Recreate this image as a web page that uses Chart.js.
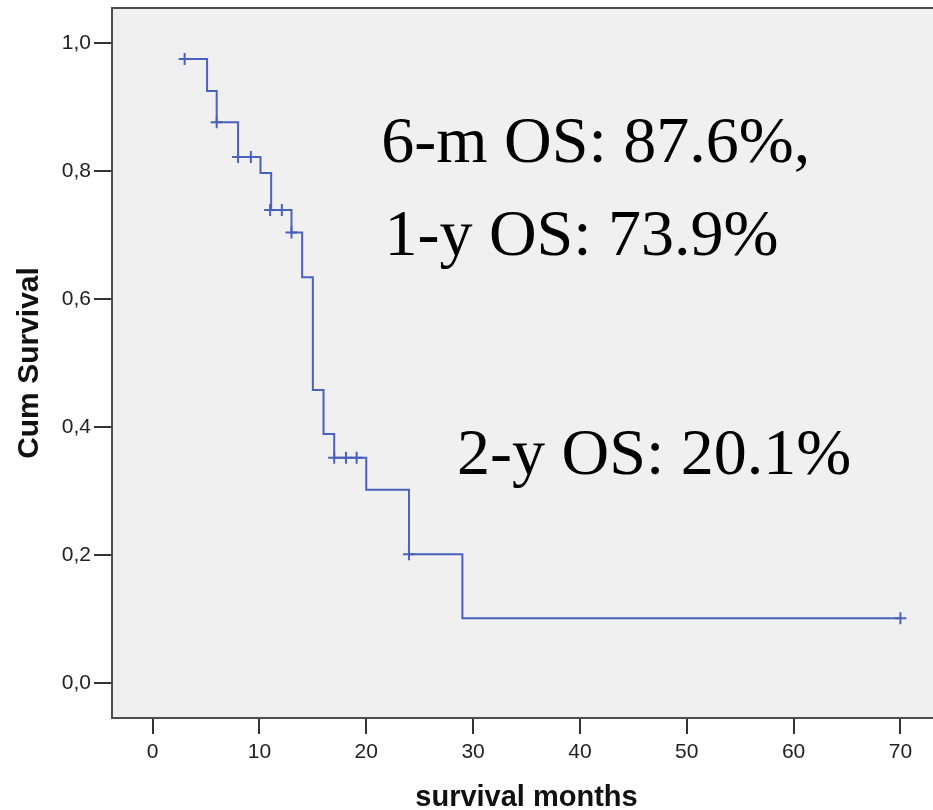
<!DOCTYPE html>
<html>
<head>
<meta charset="utf-8">
<script src="https://cdn.jsdelivr.net/npm/chart.js@4"></script>
<style>
html,body{margin:0;padding:0;background:#fff;overflow:hidden;}
#wrap{width:949px;height:810px;position:relative;}
</style>
</head>
<body>
<div id="wrap"><canvas id="c" width="949" height="810"></canvas></div>
<script>
// Kaplan-Meier step points (time in months, cumulative survival)
const stepTimes    = [2.5, 5.1, 6.0, 8.0, 10.1, 11.1, 13.0, 14.0, 15.0, 16.0, 17.0, 20.0, 24.0, 29.0, 70.0];
const stepSurvival = [0.975, 0.925, 0.876, 0.822, 0.797, 0.739, 0.704, 0.634, 0.458, 0.389, 0.352, 0.302, 0.201, 0.101, 0.101];
// Censored observations
const censorTimes    = [3.0, 6.0, 8.0, 9.2, 11.0, 12.1, 13.0, 17.0, 18.1, 19.1, 24.0, 70.0];
const censorSurvival = [0.975, 0.876, 0.822, 0.822, 0.739, 0.739, 0.704, 0.352, 0.352, 0.352, 0.201, 0.101];
// Axis ticks
const xTicks = [0, 10, 20, 30, 40, 50, 60, 70];
const yTicks = [0.0, 0.2, 0.4, 0.6, 0.8, 1.0];
// Annotations
const annoTexts = ['6-m OS: 87.6%,', '1-y OS: 73.9%', '2-y OS: 20.1%'];
const annoX = [21.4, 21.7, 28.5];
const annoY = [0.814, 0.669, 0.326];

const lineColor = '#4a62bd';

const frame = {
  id: 'frame',
  beforeDraw(chart) {
    const a = chart.chartArea, ctx = chart.ctx;
    ctx.save();
    ctx.fillStyle = '#f0f0f0';
    ctx.fillRect(a.left, a.top, a.right - a.left, a.bottom - a.top);
    ctx.restore();
  },
  afterDraw(chart) {
    const a = chart.chartArea, ctx = chart.ctx;
    ctx.save();
    ctx.strokeStyle = '#4d4d4d';
    ctx.lineWidth = 2;
    ctx.strokeRect(a.left, a.top, a.right - a.left, a.bottom - a.top);
    const xs = chart.scales.x, ys = chart.scales.y;
    ctx.fillStyle = '#000';
    ctx.font = '66px "Liberation Serif", "Times New Roman", serif';
    ctx.textBaseline = 'alphabetic';
    ctx.textAlign = 'left';
    annoTexts.forEach((t, i) => {
      ctx.fillText(t, xs.getPixelForValue(annoX[i]), ys.getPixelForValue(annoY[i]));
    });
    ctx.restore();
  }
};

new Chart(document.getElementById('c'), {
  type: 'scatter',
  data: {
    datasets: [
      {
        type: 'line',
        data: stepTimes.map((t, i) => ({x: t, y: stepSurvival[i]})),
        stepped: 'before',
        borderColor: lineColor,
        borderWidth: 2,
        pointRadius: 0,
        fill: false,
        tension: 0
      },
      {
        type: 'scatter',
        data: censorTimes.map((t, i) => ({x: t, y: censorSurvival[i]})),
        pointStyle: 'cross',
        pointRadius: 6,
        borderColor: lineColor,
        backgroundColor: lineColor,
        borderWidth: 2,
        pointHoverRadius: 6
      }
    ]
  },
  options: {
    responsive: false,
    animation: false,
    events: [],
    layout: {padding: {top: 8, right: 3, left: 0, bottom: 0}},
    plugins: {legend: {display: false}, tooltip: {enabled: false}},
    scales: {
      x: {
        type: 'linear',
        min: -3.8,
        max: 73.8,
        afterBuildTicks: s => { s.ticks = xTicks.map(v => ({value: v})); },
        afterFit: s => { s.height = 92; s.paddingLeft = 0; s.paddingRight = 0; },
        grid: {drawOnChartArea: false, drawTicks: true, tickLength: 16, color: '#333', lineWidth: 2},
        border: {display: true, color: '#4d4d4d', width: 2},
        ticks: {
          color: '#222',
          font: {family: '"Liberation Sans", Arial, sans-serif', size: 21},
          padding: 6,
          maxRotation: 0,
          callback: v => String(v)
        },
        title: {
          display: true,
          text: 'survival months',
          color: '#111',
          font: {family: '"Liberation Sans", Arial, sans-serif', size: 29, weight: 'bold', lineHeight: 0.8},
          padding: {top: 0, bottom: 0}
        }
      },
      y: {
        type: 'linear',
        min: -0.0547,
        max: 1.0547,
        afterBuildTicks: s => { s.ticks = yTicks.map(v => ({value: v})); },
        afterFit: s => { s.width = 112; s.paddingTop = 0; s.paddingBottom = 0; },
        grid: {drawOnChartArea: false, drawTicks: true, tickLength: 18, color: '#333', lineWidth: 2},
        border: {display: true, color: '#4d4d4d', width: 2},
        ticks: {
          color: '#222',
          font: {family: '"Liberation Sans", Arial, sans-serif', size: 21},
          padding: 3,
          callback: v => v.toFixed(1).replace('.', ',')
        },
        title: {
          display: true,
          text: 'Cum Survival',
          color: '#111',
          font: {family: '"Liberation Sans", Arial, sans-serif', size: 30, weight: 'bold', lineHeight: 1.2},
          padding: {top: 12, bottom: 0}
        }
      }
    }
  },
  plugins: [frame]
});
</script>
</body>
</html>
